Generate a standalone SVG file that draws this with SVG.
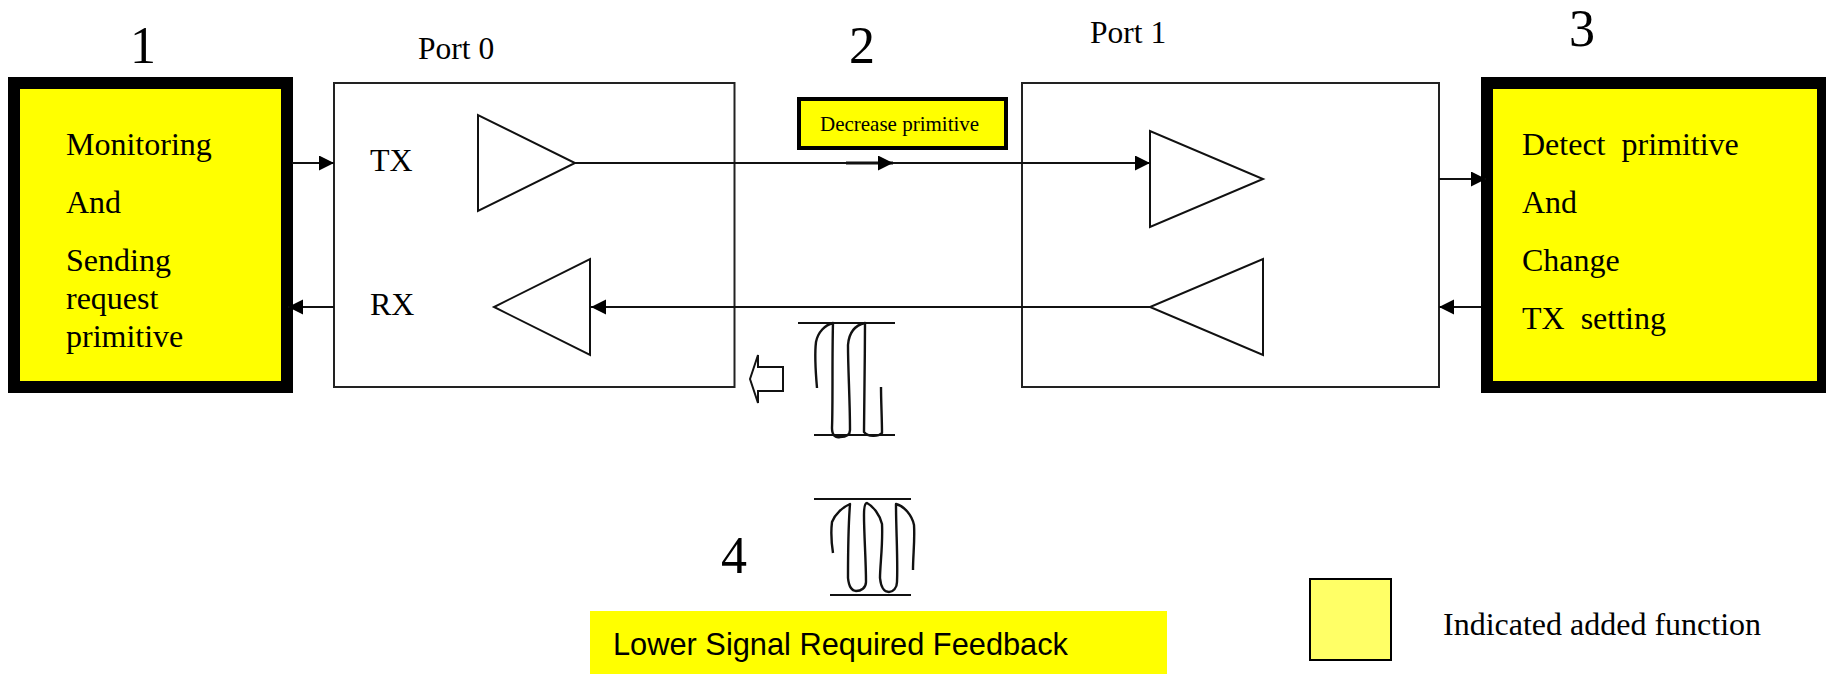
<svg xmlns="http://www.w3.org/2000/svg" width="1826" height="674" viewBox="0 0 1826 674">
<defs>
<marker id="ah" markerUnits="userSpaceOnUse" markerWidth="16" markerHeight="16" refX="15" refY="7.5" orient="auto"><path d="M0 0L15 7.5L0 15Z" fill="#000"/></marker>
</defs>
<style>
text{font-family:"Liberation Serif","Times New Roman",serif;fill:#000}
.t{font-size:32px}.n{font-size:52px}
.fn{fill:#ff0;stroke:#000;stroke-width:12}
.port{fill:#fff;stroke:#222;stroke-width:2}
.amp{fill:#fff;stroke:#111;stroke-width:2}
.c{fill:none;stroke:#111;stroke-width:2}
.sq{fill:none;stroke:#111;stroke-width:2.4;stroke-linejoin:round;stroke-linecap:butt}
</style>
<rect width="1826" height="674" fill="#fff"/>
<g id="port0">
<rect class="port" x="334" y="83" width="400.500" height="304"/>
<text class="t" x="370" y="171">TX</text>
<text class="t" x="370" y="315">RX</text>
<polygon class="amp" points="478,115 478,211 575,163"/>
<polygon class="amp" points="590,259 590,355 494,307"/>
</g>
<g id="port1">
<rect class="port" x="1022" y="83" width="417" height="304"/>
<polygon class="amp" points="1150,131 1150,227 1263,179"/>
<polygon class="amp" points="1263,259 1263,355 1150,307"/>
</g>
<g id="box1">
<rect class="fn" x="14" y="83" width="273" height="304"/>
<text class="t" x="66" y="155">Monitoring</text>
<text class="t" x="66" y="213">And</text>
<text class="t" x="66" y="271">Sending</text>
<text class="t" x="66" y="309">request</text>
<text class="t" x="66" y="347">primitive</text>
</g>
<g id="box3">
<rect class="fn" x="1487" y="83" width="336" height="304"/>
<text class="t" x="1522" y="155" xml:space="preserve">Detect  primitive</text>
<text class="t" x="1522" y="213">And</text>
<text class="t" x="1522" y="271">Change</text>
<text class="t" x="1522" y="329" xml:space="preserve">TX  setting</text>
</g>
<g id="connectors">
<line class="c" x1="292" y1="163" x2="334" y2="163" marker-end="url(#ah)"/>
<line class="c" x1="334" y1="307" x2="288" y2="307" marker-end="url(#ah)"/>
<line class="c" x1="575" y1="163" x2="1150" y2="163" marker-end="url(#ah)"/>
<line x1="846" y1="163" x2="893" y2="163" stroke="#111" stroke-width="3" marker-end="url(#ah)"/>
<line class="c" x1="1150" y1="307" x2="591" y2="307" marker-end="url(#ah)"/>
<line class="c" x1="1439" y1="179" x2="1486" y2="179" marker-end="url(#ah)"/>
<line class="c" x1="1481" y1="307" x2="1439" y2="307" marker-end="url(#ah)"/>
</g>
<g id="decrease">
<rect x="799" y="99" width="207" height="49" fill="#ff0" stroke="#000" stroke-width="4"/>
<text x="820" y="131" font-size="21">Decrease primitive</text>
</g>
<g id="labels">
<text class="n" x="130" y="63">1</text>
<text x="418" y="59" font-size="31.500">Port 0</text>
<text class="n" x="849" y="63">2</text>
<text x="1090" y="43" font-size="31.500">Port 1</text>
<text class="n" x="1569" y="46">3</text>
<text class="n" x="721" y="573">4</text>
</g>
<g id="signal-top">
<line class="c" x1="798" y1="323" x2="895" y2="323"/>
<line class="c" x1="814" y1="435" x2="895" y2="435"/>
<path class="sq" d="M817 388C815 365 815 350 816 342C818 332 825 325 833 323C832 360 833 400 832 428C832 436 836 438 840 437C845 437 850 436 850 430C850 400 848 370 848 345C849 332 856 325 865 323C865 360 864 400 864 432C868 437 878 437 882 433C882 420 881 400 881 387"/>
<polygon class="amp" points="750,379 758,355 758,367 783,367 783,391 758,391 758,403"/>
</g>
<g id="signal-bottom">
<line class="c" x1="814" y1="499" x2="911" y2="499"/>
<line class="c" x1="830" y1="595" x2="911" y2="595"/>
<path class="sq" d="M833 553C831 540 831 530 832 522C835 514 843 507 850 504C848 530 848 560 848 578C849 588 853 591 856 591C861 591 866 588 866 582C866 560 864 535 864 515C864 508 865 503 867 503C873 506 880 515 882 524C883 545 880 565 880 578C881 588 885 592 889 592C893 592 897 588 897 582C898 560 896 530 896 504C904 506 912 515 914 525C915 540 913 555 913 570"/>
</g>
<g id="feedback">
<rect x="590" y="611" width="577" height="63" fill="#ff0"/>
<text x="613" y="655" font-size="32" textLength="455" lengthAdjust="spacingAndGlyphs" style="font-family:'Liberation Sans',Arial,sans-serif">Lower Signal Required Feedback</text>
</g>
<g id="legend">
<rect x="1310" y="579" width="81" height="81" fill="#ff6" stroke="#000" stroke-width="2"/>
<text x="1443" y="635" font-size="32">Indicated added function</text>
</g>
</svg>
